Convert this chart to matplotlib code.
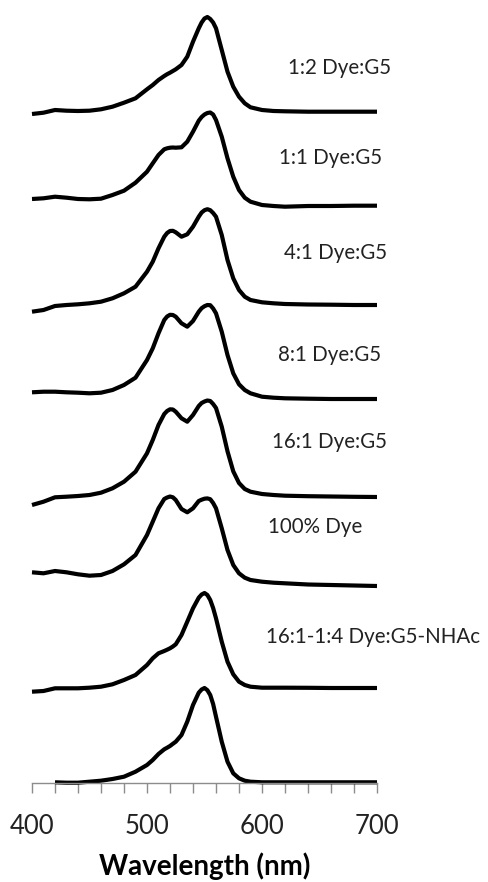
import numpy as np
import matplotlib.pyplot as plt

plt.rcParams['font.family'] = ['Lato', 'DejaVu Sans']

wl = [400, 410, 420, 430, 440, 450, 460, 470, 480, 490,
      500, 505, 510, 515, 517.5, 520, 522.5, 525, 530, 535, 540,
      545, 547.5, 550, 552.5, 555, 557.5, 560, 565, 570, 575, 580, 585, 590,
      600, 610, 620, 640, 660, 680, 700]

# stacked absorbance spectra, top to bottom
dye_g5_1_2 = [6.690, 6.703, 6.730, 6.723, 6.720, 6.723, 6.737, 6.763, 6.803, 6.847,
              6.937, 6.980, 7.030, 7.070, 7.088, 7.103, 7.120, 7.137, 7.180, 7.263, 7.413,
              7.547, 7.605, 7.645, 7.660, 7.640, 7.605, 7.547, 7.330, 7.113, 6.963, 6.863, 6.797, 6.757,
              6.730, 6.720, 6.717, 6.713, 6.713, 6.713, 6.713]
dye_g5_1_1 = [5.840, 5.847, 5.863, 5.853, 5.840, 5.837, 5.843, 5.880, 5.923, 6.003,
              6.113, 6.197, 6.280, 6.337, 6.347, 6.353, 6.355, 6.353, 6.357, 6.413, 6.513,
              6.623, 6.660, 6.685, 6.700, 6.705, 6.685, 6.630, 6.463, 6.247, 6.063, 5.930, 5.853, 5.813,
              5.780, 5.770, 5.763, 5.770, 5.770, 5.773, 5.773]
dye_g5_4_1 = [4.713, 4.730, 4.770, 4.780, 4.787, 4.797, 4.813, 4.847, 4.897, 4.963,
              5.113, 5.213, 5.347, 5.463, 5.500, 5.520, 5.522, 5.507, 5.463, 5.487, 5.563,
              5.663, 5.705, 5.728, 5.738, 5.728, 5.700, 5.663, 5.480, 5.230, 5.047, 4.930, 4.863, 4.830,
              4.807, 4.797, 4.790, 4.785, 4.783, 4.780, 4.780]
dye_g5_8_1 = [3.907, 3.913, 3.913, 3.907, 3.903, 3.897, 3.903, 3.930, 3.980, 4.053,
              4.230, 4.347, 4.497, 4.630, 4.665, 4.682, 4.680, 4.663, 4.597, 4.563, 4.620,
              4.713, 4.748, 4.768, 4.780, 4.778, 4.745, 4.697, 4.513, 4.280, 4.097, 3.987, 3.930, 3.897,
              3.863, 3.853, 3.847, 3.843, 3.840, 3.840, 3.840]
dye_g5_16_1 = [2.780, 2.813, 2.857, 2.863, 2.870, 2.880, 2.903, 2.947, 3.013, 3.113,
               3.297, 3.430, 3.580, 3.690, 3.720, 3.737, 3.735, 3.713, 3.647, 3.613, 3.680,
               3.770, 3.800, 3.815, 3.825, 3.820, 3.790, 3.750, 3.563, 3.317, 3.117, 3.000, 2.940, 2.913,
               2.890, 2.880, 2.873, 2.868, 2.865, 2.862, 2.860]
dye_only = [2.107, 2.097, 2.120, 2.107, 2.087, 2.073, 2.080, 2.120, 2.187, 2.280,
            2.480, 2.613, 2.747, 2.840, 2.855, 2.865, 2.857, 2.830, 2.740, 2.707, 2.747,
            2.820, 2.833, 2.843, 2.846, 2.838, 2.800, 2.747, 2.547, 2.330, 2.180, 2.097, 2.053, 2.030,
            2.013, 2.003, 1.997, 1.985, 1.980, 1.975, 1.970]
dye_nhac = [0.913, 0.920, 0.947, 0.947, 0.947, 0.953, 0.963, 0.987, 1.030, 1.080,
            1.180, 1.247, 1.297, 1.320, 1.333, 1.347, 1.365, 1.387, 1.480, 1.613, 1.747,
            1.853, 1.885, 1.900, 1.880, 1.830, 1.750, 1.647, 1.413, 1.213, 1.087, 1.013, 0.980, 0.963,
            0.953, 0.953, 0.953, 0.952, 0.950, 0.950, 0.950]
bottom = [np.nan, np.nan, 0.007, 0.003, 0.003, 0.013, 0.023, 0.040, 0.063, 0.113,
          0.180, 0.230, 0.290, 0.337, 0.353, 0.370, 0.392, 0.413, 0.480, 0.613, 0.780,
          0.903, 0.935, 0.950, 0.928, 0.880, 0.790, 0.663, 0.413, 0.213, 0.097, 0.047, 0.023, 0.013,
          0.007, 0.007, 0.007, 0.007, 0.007, 0.007, 0.007]

spectra = [dye_g5_1_2, dye_g5_1_1, dye_g5_4_1, dye_g5_8_1,
           dye_g5_16_1, dye_only, dye_nhac, bottom]

labels = ["1:2 Dye:G5", "1:1 Dye:G5", "4:1 Dye:G5", "8:1 Dye:G5",
          "16:1 Dye:G5", "100% Dye", "16:1-1:4 Dye:G5-NHAc"]
label_x = [622.6, 614.8, 619.1, 613.9, 608.7, 605.2, 603.5]
label_y = [7.15, 6.25, 5.30, 4.28, 3.41, 2.56, 1.46]

fig = plt.figure(figsize=(4.89, 8.82), dpi=100)
ax = fig.add_axes([32 / 489, 99 / 882, 345 / 489, 783 / 882])

for s in spectra:
    ax.plot(wl, s, color='black', lw=3.0, solid_joinstyle='round',
            solid_capstyle='butt', clip_on=False)

for t, x, y in zip(labels, label_x, label_y):
    ax.text(x, y, t, fontsize=14.8, color='#222222', va='center', ha='left')

ax.set_xlim(400, 700)
ax.set_ylim(0, 7.83)
ax.set_xticks(range(400, 701, 100))
ax.set_xticks(range(400, 701, 20), minor=True)
ax.set_yticks([])
for side in ['top', 'right', 'left']:
    ax.spines[side].set_visible(False)
ax.spines['bottom'].set_color('#8c8c8c')
ax.spines['bottom'].set_linewidth(1.0)
ax.tick_params(axis='x', which='both', direction='out', length=7,
               width=1.0, color='#8c8c8c')
ax.tick_params(axis='x', which='major', labelsize=18.5, pad=15, labelcolor='#222222')
ax.set_xlabel("Wavelength (nm)", fontsize=20, fontweight='bold', labelpad=10)

fig.savefig("out.png", dpi=100, facecolor='white')
